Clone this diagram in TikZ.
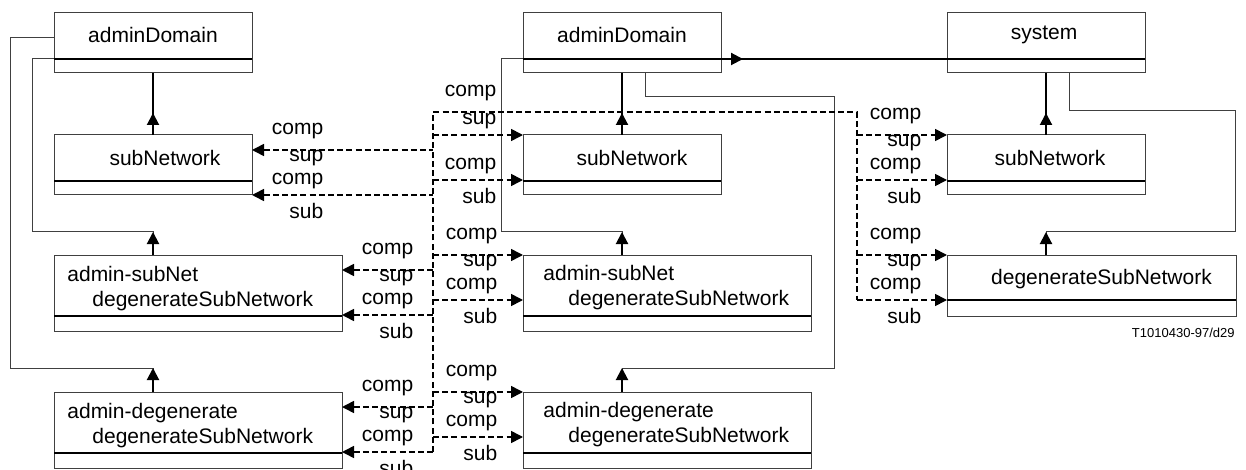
\documentclass[tikz,border=0pt]{standalone}
\usepackage{fontspec}
\setmainfont{Liberation Sans}
\usetikzlibrary{positioning, arrows.meta}

\newcommand{\boxfont}{\fontsize{10.5pt}{12.5pt}\selectfont}
\tikzset{
  cls/.style={draw=black!75, line width=0.5pt, minimum width=99pt, minimum height=30pt, inner sep=0pt, outer sep=0pt},
  wide/.style={minimum width=144pt, minimum height=38pt},
  txt/.style={inner sep=0pt, font=\boxfont},
  lab/.style={txt, anchor=east},
  divider/.style={line width=1pt},
  conn/.style={draw=black!75, line width=0.5pt},
  heavy/.style={line width=1pt},
  stub/.style={line width=1pt, ->},
  refl/.style={line width=0.8pt, dash pattern=on 3pt off 1.6pt},
}

\begin{document}
\begin{tikzpicture}[x=0.5pt, y=-0.5pt, >={Triangle[length=6pt, width=6pt]}]
  \useasboundingbox (0,0) rectangle (1246,470);

  % left column
  \node[cls] (adL) at (153,43) {};
  \node[cls] (snL) [below=31pt of adL] {};
  \node[cls, wide] (asL) [below right=30pt and 0pt of snL.south west] {};
  \node[cls, wide] (agL) [below=30.5pt of asL] {};
  % middle column
  \node[cls] (adM) [right=135.5pt of adL] {};
  \node[cls] (snM) [below=31pt of adM] {};
  \node[cls, wide] (asM) [below right=30pt and 0pt of snM.south west] {};
  \node[cls, wide] (agM) [below=30.5pt of asM] {};
  % right column
  \node[cls] (sys) [right=113pt of adM] {};
  \node[cls] (snR) [below=31pt of sys] {};
  \node[cls, minimum width=144.5pt, minimum height=30.5pt] (dgR) [below right=30pt and 0pt of snR.south west] {};

  \foreach \b/\d in {adL/7pt, snL/7pt, asL/7.5pt, agL/7.5pt, adM/7pt, snM/7pt, asM/7.5pt, agM/7.5pt, sys/7pt, snR/7pt, dgR/8pt}
    \draw[divider] ([yshift=\d]\b.south west) -- ([yshift=\d]\b.south east);

  % class names
  \node[txt] (adLt) at ([yshift=4pt]adL.center) {adminDomain};
  \node[txt] (snLt) at ([xshift=6pt, yshift=3.5pt]snL.center) {subNetwork};
  \node[txt, anchor=west, align=left] (asLt) at ([xshift=6.5pt, yshift=2pt]asL.west) {admin-subNet\\\hspace*{12.5pt}degenerateSubNetwork};
  \node[txt, anchor=west, align=left] (agLt) at ([xshift=6.5pt, yshift=2pt]agL.west) {admin-degenerate\\\hspace*{12.5pt}degenerateSubNetwork};
  \node[txt] (adMt) at ([yshift=4pt]adM.center) {adminDomain};
  \node[txt] (snMt) at ([xshift=5pt, yshift=3.5pt]snM.center) {subNetwork};
  \node[txt, anchor=west, align=left] (asMt) at ([xshift=10pt, yshift=2.5pt]asM.west) {admin-subNet\\\hspace*{12.5pt}degenerateSubNetwork};
  \node[txt, anchor=west, align=left] (agMt) at ([xshift=10pt, yshift=2.5pt]agM.west) {admin-degenerate\\\hspace*{12.5pt}degenerateSubNetwork};
  \node[txt] (sysT) at ([xshift=-1pt, yshift=4pt]sys.center) {system};
  \node[txt] (snRt) at ([xshift=2pt, yshift=3.5pt]snR.center) {subNetwork};
  \node[txt] (dgRt) at ([xshift=5pt, yshift=3pt]dgR.center) {degenerateSubNetwork};
  \node[txt, font=\fontsize{6.5pt}{8pt}\selectfont, anchor=east] (tag) at (1235,333) {T1010430-97/d29};

  % name bindings
  \draw[heavy] (adL) -- (snL);
  \draw[stub] (snL.north) -- ++(0,-22);
  \draw[conn] ([yshift=-8pt]adL.west) -| (32,232) -| (adL |- asL.north);
  \draw[stub] (adL |- asL.north) -- ++(0,-23);
  \draw[conn] ([yshift=2.5pt]adL.west) -| (10,368) -| (adL |- agL.north);
  \draw[stub] (adL |- agL.north) -- ++(0,-24);

  \draw[heavy] (adM) -- (snM);
  \draw[stub] (snM.north) -- ++(0,-22);
  \draw[conn] ([yshift=-8pt]adM.west) -| (501,232) -| (adM |- asM.north);
  \draw[stub] (adM |- asM.north) -- ++(0,-23);
  \draw[conn] ([xshift=11.5pt]adM.south) |- (834,97) -- (834,368) -| (adM |- agM.north);
  \draw[stub] (adM |- agM.north) -- ++(0,-24);
  \draw[heavy] ([yshift=-8pt]adM.east) -- ([yshift=-8pt]sys.west);
  \draw[stub] ([yshift=-8pt]adM.east) -- ++(22,0);

  \draw[heavy] (sys) -- (snR);
  \draw[stub] (snR.north) -- ++(0,-22);
  \draw[conn] ([xshift=11.5pt]sys.south) |- (1235,111) -- (1235,232) -| (sys |- dgR.north);
  \draw[stub] (sys |- dgR.north) -- ++(0,-23);

  % reference relationships
  \coordinate (busL) at (433,112);
  \coordinate (busLe) at (433,452);
  \coordinate (busR) at (857,112);
  \coordinate (busRe) at (857,300);
  \draw[refl] (busLe) -- (busL) -- (busR) -- (busRe);

  \foreach \b/\l in {snL/181, asL/91, agL/91} {
    \draw[refl, <-] ([yshift=-7.5pt]\b.north east) -- ++(\l,0)
      node[lab, pos=0, xshift=36pt, yshift=9.5pt] {comp}
      node[lab, pos=0, xshift=36pt, yshift=-4pt] {sup};
    \draw[refl, <-] ([yshift=-30pt]\b.north east) -- ++(\l,0)
      node[lab, pos=0, xshift=36pt, yshift=7pt] {comp}
      node[lab, pos=0, xshift=36pt, yshift=-8pt] {sub};
  }

  \draw[refl, ->] ([xshift=-45pt]snM.north west) -- (snM.north west)
    node[lab, pos=1, xshift=-13pt, yshift=21pt] {comp}
    node[lab, pos=1, xshift=-13pt, yshift=7pt] {sup};
  \draw[refl, ->] ([xshift=-45pt, yshift=-22.5pt]snM.north west) -- ([yshift=-22.5pt]snM.north west)
    node[lab, pos=1, xshift=-13pt, yshift=7pt] {comp}
    node[lab, pos=1, xshift=-13pt, yshift=-8pt] {sub};

  \foreach \b in {asM, agM, snR, dgR} {
    \draw[refl, ->] ([xshift=-45pt]\b.north west) -- (\b.north west)
      node[lab, pos=1, xshift=-12.5pt, yshift=9.5pt] {comp}
      node[lab, pos=1, xshift=-12.5pt, yshift=-4pt] {sup};
    \draw[refl, ->] ([xshift=-45pt, yshift=-22.5pt]\b.north west) -- ([yshift=-22.5pt]\b.north west)
      node[lab, pos=1, xshift=-12.5pt, yshift=7pt] {comp}
      node[lab, pos=1, xshift=-12.5pt, yshift=-8pt] {sub};
  }
\end{tikzpicture}
\end{document}
